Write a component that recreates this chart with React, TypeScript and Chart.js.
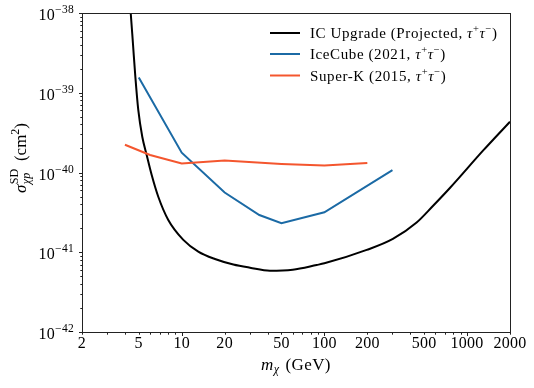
import React, { useEffect, useRef } from "react";
import { Chart, registerables } from "chart.js";

Chart.register(...registerables);

// ---- Data ----
const icUpgradeMass = [4.3, 4.39, 4.55, 4.73, 4.96, 5.29, 5.68, 6.16, 6.85, 8.05, 10.26, 13.06, 17.1, 23, 30.1, 41.5, 60, 88.3, 100, 198, 302, 443, 576, 758, 1298, 2000];
const icUpgradeSigma = [1.5e-38, 1e-38, 4.17e-39, 1.59e-39, 6.08e-40, 2.81e-40, 1.66e-40, 9.3e-41, 4.97e-41, 2.54e-41, 1.43e-41, 1.02e-41, 8.23e-42, 7.02e-42, 6.4e-42, 5.87e-42, 6.05e-42, 6.92e-42, 7.26e-42, 1.07e-41, 1.47e-41, 2.36e-41, 3.8e-41, 6.39e-41, 1.89e-40, 4.34e-40];

const iceCubeMass = [5, 10, 20, 35, 50, 100, 300];
const iceCubeSigma = [1.55e-39, 1.77e-40, 5.6e-41, 2.93e-41, 2.31e-41, 3.17e-41, 1.07e-40];

const superKMass = [4, 6, 10, 20, 50, 100, 200];
const superKSigma = [2.23e-40, 1.66e-40, 1.3e-40, 1.41e-40, 1.28e-40, 1.22e-40, 1.32e-40];

const xTickLabels = [2, 5, 10, 20, 50, 100, 200, 500, 1000, 2000];
const yTickExponents = [-42, -41, -40, -39, -38];

const seriesNames = ["IC Upgrade (Projected, ", "IceCube (2021, ", "Super-K (2015, "];
const seriesColors = ["#000000", "#1b6aa5", "#f4562e"];

const FAMILY = "'Liberation Serif', 'DejaVu Serif', serif";

type Run = { t: string; size: number; italic?: boolean; dy?: number; dx?: number };

function drawRuns(ctx: CanvasRenderingContext2D, runs: Run[], x: number, y: number, align: "left" | "center" | "right", spacing = "0px") {
  (ctx as any).letterSpacing = spacing;
  const fonts = runs.map((r) => `${r.italic ? "italic " : ""}${r.size}px ${FAMILY}`);
  const widths = runs.map((r, i) => {
    ctx.font = fonts[i];
    return ctx.measureText(r.t).width + (r.dx || 0);
  });
  const total = widths.reduce((a, b) => a + b, 0);
  let cx = align === "left" ? x : align === "center" ? x - total / 2 : x - total;
  ctx.textAlign = "left";
  ctx.textBaseline = "alphabetic";
  runs.forEach((r, i) => {
    ctx.font = fonts[i];
    ctx.fillText(r.t, cx, y + (r.dy || 0));
    cx += widths[i];
  });
  (ctx as any).letterSpacing = "0px";
}

const axesPlugin = {
  id: "customAxes",
  afterDraw(chart: any) {
    const ctx: CanvasRenderingContext2D = chart.ctx;
    const area = chart.chartArea;
    const xs = chart.scales.x;
    const ys = chart.scales.y;
    ctx.save();
    ctx.strokeStyle = "#222";
    ctx.fillStyle = "#000";
    ctx.lineWidth = 1;
    // frame
    ctx.strokeRect(Math.round(area.left) + 0.5, Math.round(area.top) + 0.5, Math.round(area.right - area.left), Math.round(area.bottom - area.top));
    const bottom = Math.round(area.bottom) + 0.5;
    const left = Math.round(area.left) + 0.5;
    // x ticks
    ctx.beginPath();
    for (let d = 0; d <= 3; d++) {
      for (let k = 1; k <= 9; k++) {
        const v = k * Math.pow(10, d);
        if (v < 2 || v > 2000) continue;
        const px = Math.round(xs.getPixelForValue(v)) + 0.5;
        const len = k === 1 ? 3.5 : 2.2;
        ctx.moveTo(px, bottom);
        ctx.lineTo(px, bottom + len);
      }
    }
    // y ticks
    for (let e = -42; e <= -39; e++) {
      for (let k = 1; k <= 9; k++) {
        const v = k * Math.pow(10, e);
        const py = Math.round(ys.getPixelForValue(v)) + 0.5;
        const len = k === 1 ? 3.5 : 2.2;
        ctx.moveTo(left, py);
        ctx.lineTo(left - len, py);
      }
    }
    const pyTop = Math.round(ys.getPixelForValue(1e-38)) + 0.5;
    ctx.moveTo(left, pyTop);
    ctx.lineTo(left - 3.5, pyTop);
    ctx.stroke();

    // x tick labels
    ctx.fillStyle = "#000";
    xTickLabels.forEach((v) => {
      const px = xs.getPixelForValue(v);
      drawRuns(ctx, [{ t: String(v), size: 16 }], px, bottom + 15, "center", "0.3px");
    });
    // y tick labels
    yTickExponents.forEach((e) => {
      const py = ys.getPixelForValue(Math.pow(10, e));
      drawRuns(
        ctx,
        [
          { t: "10", size: 16 },
          { t: "\u2212" + Math.abs(e), size: 11.5, dy: -7 },
        ],
        area.left - 8,
        py + 7,
        "right",
        "0.3px"
      );
    });

    // x title
    drawRuns(
      ctx,
      [
        { t: "m", size: 17, italic: true },
        { t: "\u03c7", size: 12, italic: true, dy: 3, dx: 6 },
        { t: "(GeV)", size: 17 },
      ],
      (area.left + area.right) / 2,
      370,
      "center",
      "0.4px"
    );

    // y title (rotated)
    ctx.save();
    ctx.translate(26, 158);
    ctx.rotate(-Math.PI / 2);
    ctx.font = `italic 17px ${FAMILY}`;
    const wSigma = ctx.measureText("\u03c3").width;
    ctx.font = `12px ${FAMILY}`;
    const wSD = ctx.measureText("SD").width;
    ctx.font = `italic 12px ${FAMILY}`;
    const wChip = ctx.measureText("\u03c7p").width;
    ctx.font = `17px ${FAMILY}`;
    const wCm = ctx.measureText(" (cm").width;
    ctx.font = `12px ${FAMILY}`;
    const w2 = ctx.measureText("2").width;
    ctx.font = `17px ${FAMILY}`;
    const wP = ctx.measureText(")").width;
    const subW = Math.max(wSD, wChip);
    const total = wSigma + subW + 4 + wCm + w2 + wP;
    let cx = -total / 2;
    ctx.textAlign = "left";
    ctx.textBaseline = "alphabetic";
    ctx.fillStyle = "#000";
    ctx.font = `italic 17px ${FAMILY}`;
    ctx.fillText("\u03c3", cx, 0);
    cx += wSigma + 0.5;
    ctx.font = `12px ${FAMILY}`;
    ctx.fillText("SD", cx, -8);
    ctx.font = `italic 12px ${FAMILY}`;
    ctx.fillText("\u03c7p", cx, 4);
    cx += subW + 3.5;
    ctx.font = `17px ${FAMILY}`;
    ctx.fillText(" (cm", cx, 0);
    cx += wCm;
    ctx.font = `12px ${FAMILY}`;
    ctx.fillText("2", cx, -7);
    cx += w2;
    ctx.font = `17px ${FAMILY}`;
    ctx.fillText(")", cx, 0);
    ctx.restore();

    // legend
    const rows = [33, 54, 75.5];
    rows.forEach((ry, i) => {
      ctx.strokeStyle = seriesColors[i];
      ctx.lineWidth = 2;
      ctx.beginPath();
      ctx.moveTo(270, ry);
      ctx.lineTo(300, ry);
      ctx.stroke();
      ctx.fillStyle = "#000";
      drawRuns(
        ctx,
        [
          { t: seriesNames[i], size: 15 },
          { t: "\u03c4", size: 15, italic: true },
          { t: "+", size: 10.5, dy: -6 },
          { t: "\u03c4", size: 15, italic: true },
          { t: "\u2212", size: 10.5, dy: -6 },
          { t: ")", size: 15 },
        ],
        310,
        ry + 5,
        "left",
        "0.6px"
      );
    });
    ctx.restore();
  },
};

export default function App() {
  const ref = useRef<HTMLCanvasElement | null>(null);
  useEffect(() => {
    if (!ref.current) return;
    const mk = (xs: number[], ys: number[]) => xs.map((x, i) => ({ x, y: ys[i] }));
    const chart = new Chart(ref.current, {
      type: "line",
      data: {
        datasets: [
          {
            label: "IC Upgrade (Projected, τ⁺τ⁻)",
            data: mk(icUpgradeMass, icUpgradeSigma),
            borderColor: seriesColors[0],
            borderWidth: 2,
            pointRadius: 0,
            cubicInterpolationMode: "monotone",
            fill: false,
            order: 3,
          },
          {
            label: "IceCube (2021, τ⁺τ⁻)",
            data: mk(iceCubeMass, iceCubeSigma),
            borderColor: seriesColors[1],
            borderWidth: 2,
            pointRadius: 0,
            tension: 0,
            fill: false,
            order: 2,
          },
          {
            label: "Super-K (2015, τ⁺τ⁻)",
            data: mk(superKMass, superKSigma),
            borderColor: seriesColors[2],
            borderWidth: 2,
            pointRadius: 0,
            tension: 0,
            fill: false,
            order: 1,
          },
        ],
      },
      options: {
        responsive: false,
        animation: false,
        layout: { padding: { left: 82, top: 13, right: 24, bottom: 56 } },
        plugins: { legend: { display: false }, tooltip: { enabled: false } },
        scales: {
          x: { type: "logarithmic", min: 2, max: 2000, display: false },
          y: { type: "logarithmic", min: 1e-42, max: 1e-38, display: false },
        },
      },
      plugins: [axesPlugin],
    } as any);
    return () => chart.destroy();
  }, []);
  return (
    <div style={{ position: "absolute", left: 0, top: 0, width: 534, height: 388, background: "#fff" }}>
      <canvas ref={ref} width={534} height={388} style={{ width: 534, height: 388 }} />
    </div>
  );
}
